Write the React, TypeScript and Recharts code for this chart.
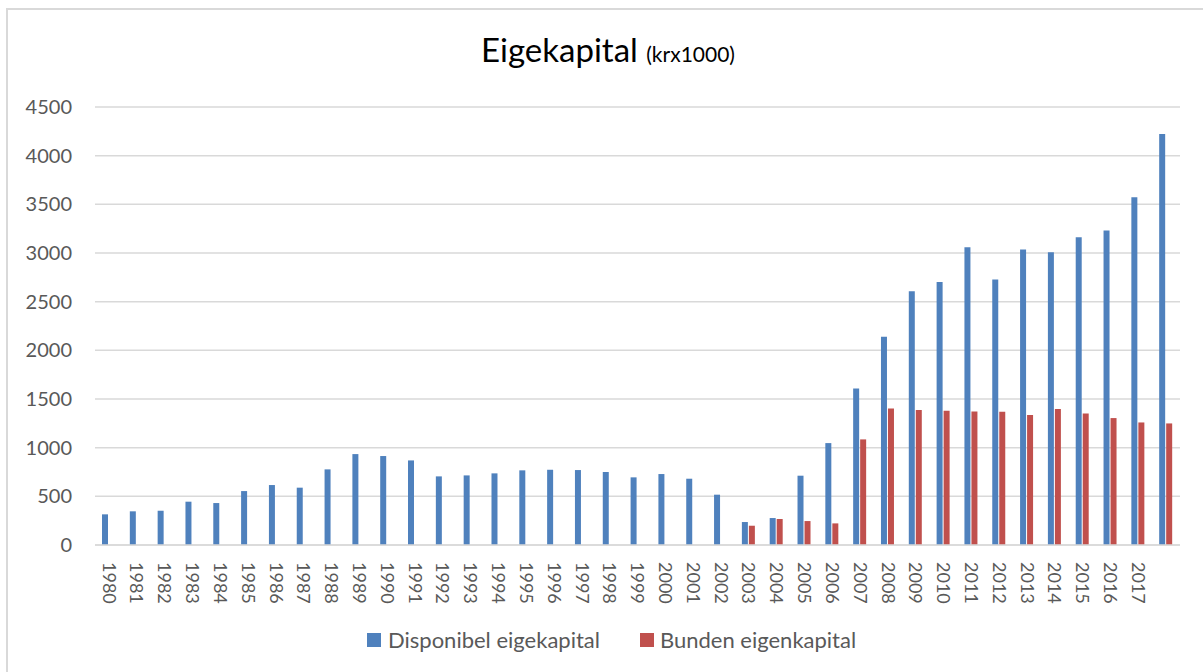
import { BarChart, Bar, XAxis, YAxis, CartesianGrid } from 'recharts';

const years = [
  '1980', '1981', '1982', '1983', '1984', '1985', '1986', '1987', '1988', '1989',
  '1990', '1991', '1992', '1993', '1994', '1995', '1996', '1997', '1998', '1999',
  '2000', '2001', '2002', '2003', '2004', '2005', '2006', '2007', '2008', '2009',
  '2010', '2011', '2012', '2013', '2014', '2015', '2016', '2017', '',
];

const disponibel = [
  315, 346, 352, 445, 431, 554, 616, 589, 777, 934,
  914, 869, 705, 715, 736, 767, 773, 770, 750, 695,
  729, 681, 517, 236, 277, 712, 1047, 1609, 2139, 2608,
  2703, 3060, 2728, 3036, 3008, 3162, 3231, 3573, 4223,
];

const bunden: (number | null)[] = [
  null, null, null, null, null, null, null, null, null, null,
  null, null, null, null, null, null, null, null, null, null,
  null, null, null, 198, 267, 246, 222, 1085, 1403, 1386,
  1379, 1372, 1369, 1335, 1396, 1352, 1304, 1259, 1249,
];

const yTicks = [0, 500, 1000, 1500, 2000, 2500, 3000, 3500, 4000, 4500];

const BLUE = '#4F81BD';
const RED = '#C0504D';
const FONT = 'Lato, "Open Sans", sans-serif';

const data = years.map((year, i) => ({
  year,
  disponibel: disponibel[i],
  bunden: bunden[i],
}));

const YearTick = (props: any) => {
  const { x, y, payload } = props;
  return (
    <text
      x={0}
      y={0}
      dy="0.35em"
      transform={`translate(${x},${y + 9}) rotate(90)`}
      textAnchor="start"
      fill="#595959"
      fontSize={18}
      fontFamily={FONT}
    >
      {payload.value}
    </text>
  );
};

const App = () => {
  return (
    <div style={{ position: 'absolute', left: 0, top: 0, width: 1203, height: 672, overflow: 'hidden', background: '#fff' }}>
      <div
        style={{
          position: 'absolute',
          left: 6,
          top: 8,
          width: 1300,
          height: 700,
          borderLeft: '2px solid #d9d9d9',
          borderTop: '2px solid #d9d9d9',
        }}
      />
      <div
        style={{
          position: 'absolute',
          left: 0,
          top: 29,
          width: 1216,
          textAlign: 'center',
          fontFamily: FONT,
          color: '#000',
          whiteSpace: 'nowrap',
        }}
      >
        <span style={{ fontSize: 33 }}>Eigekapital </span>
        <span style={{ fontSize: 21 }}>(krx1000)</span>
      </div>
      <div style={{ position: 'absolute', left: 0, top: 0 }}>
        <BarChart
          width={1203}
          height={672}
          data={data}
          margin={{ top: 107, right: 23, bottom: 0, left: 15 }}
          barGap={1}
          barSize={6}
        >
          <CartesianGrid vertical={false} stroke="#d9d9d9" strokeWidth={1.5} />
          <XAxis
            dataKey="year"
            height={127}
            interval={0}
            axisLine={{ stroke: '#d9d9d9', strokeWidth: 1.5 }}
            tickLine={false}
            tick={<YearTick />}
          />
          <YAxis
            width={80}
            domain={[0, 4500]}
            ticks={yTicks}
            axisLine={false}
            tickLine={false}
            tickSize={0}
            tickMargin={23}
            tick={{ fontSize: 20, fontFamily: FONT, fill: '#595959' }}
          />
          <Bar dataKey="disponibel" fill={BLUE} isAnimationActive={false} />
          <Bar dataKey="bunden" fill={RED} isAnimationActive={false} />
        </BarChart>
      </div>
      <div
        style={{
          position: 'absolute',
          left: 367,
          top: 626,
          display: 'flex',
          alignItems: 'center',
          fontFamily: FONT,
          fontSize: 22,
          color: '#595959',
          whiteSpace: 'nowrap',
        }}
      >
        <span style={{ width: 14, height: 14, background: BLUE, display: 'inline-block', marginRight: 7 }} />
        <span style={{ marginRight: 40 }}>Disponibel eigekapital</span>
        <span style={{ width: 14, height: 14, background: RED, display: 'inline-block', marginRight: 6 }} />
        <span>Bunden eigenkapital</span>
      </div>
    </div>
  );
};

export default App;
